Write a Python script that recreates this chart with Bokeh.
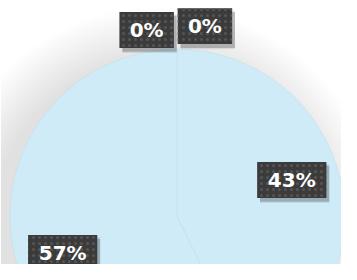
import numpy as np
from bokeh.plotting import figure
from bokeh.models import Range1d, ColumnDataSource
from bokeh.core.properties import value
from bokeh.embed import file_html
from bokeh.resources import INLINE

# ---- data ----
categories = ["A", "B", "C", "D"]
values = [0, 0, 3, 4]
labels = ["0%", "0%", "43%", "57%"]

# ---- layout (reference pixel space, y measured up from the bottom) ----
W, H = 341, 264
RW, RH = 357, 280
CX, CY, R = 185, 51, 175

p = figure(width=W, height=H, output_backend="svg", toolbar_location=None,
           x_range=Range1d(0, RW), y_range=Range1d(0, RH),
           min_border=0, background_fill_color="white", border_fill_color="white")
p.axis.visible = False
p.grid.visible = False
p.outline_line_color = None

# background soft grey on left
nstrip = 20
xs = np.linspace(0, 170, nstrip + 1)
p.quad(left=[0] * nstrip, right=list(xs[1:]), bottom=[0] * nstrip, top=[RH] * nstrip,
       fill_color="#000000", fill_alpha=0.0018, line_color=None)

# shadow around pie
nsh = 30
radii = np.linspace(R + 55, R + 1, nsh)
p.circle(x=[CX - 18] * nsh, y=[CY - 10] * nsh, radius=list(radii),
         fill_color="#000000", fill_alpha=0.003, line_color=None)

# pie
vals = np.array(values, dtype=float)
frac = vals / vals.sum()
cum = np.concatenate([[0], np.cumsum(frac)])
start_deg = 90 - 360 * cum[:-1]
end_deg = 90 - 360 * cum[1:]
nz = vals > 0
src = ColumnDataSource(dict(
    s=np.radians(end_deg[nz]), e=np.radians(start_deg[nz]),
))
p.wedge(x=CX, y=CY, radius=R, start_angle="s", end_angle="e", source=src,
        fill_color="#cfebf7", line_color="#c3dfeb", line_width=0.6)

# label positions
mid = np.radians((start_deg + end_deg) / 2 + 5)
lx = CX + 0.72 * R * np.cos(mid)
ly = CY + 0.72 * R * np.sin(mid)
zero_dx = [-32, 29]
zero_dy = [0, 4]
k = 0
for i, v in enumerate(values):
    if v == 0:
        lx[i] = CX + zero_dx[k]
        ly[i] = CY + 1.13 * R + zero_dy[k]
        k += 1
bw = np.array([26 + 15.5 * len(t) for t in labels], dtype=float)
bh = 38

lsrc = ColumnDataSource(dict(x=lx, y=ly, w=bw, t=labels,
                             sx=lx + 3, sy=ly - 4))
p.rect(x="sx", y="sy", width="w", height=bh + 3, source=lsrc,
       fill_color="#000000", fill_alpha=0.08, line_color=None)
p.rect(x="sx", y="sy", width="w", height=bh, source=lsrc,
       fill_color="#000000", fill_alpha=0.2, line_color=None)
p.rect(x="x", y="y", width="w", height=bh, source=lsrc,
       fill_color="#3b3b3b", line_color=None,
       hatch_pattern="dot", hatch_color="#555555", hatch_scale=6, hatch_weight=1.5)
p.text(x="x", y="y", text="t", source=lsrc, text_align="center",
       text_baseline="middle", text_color="white", text_font=value("DejaVu Sans"),
       text_font_style="bold", text_font_size="20px")

open("out.html", "w").write(file_html(p, INLINE))
